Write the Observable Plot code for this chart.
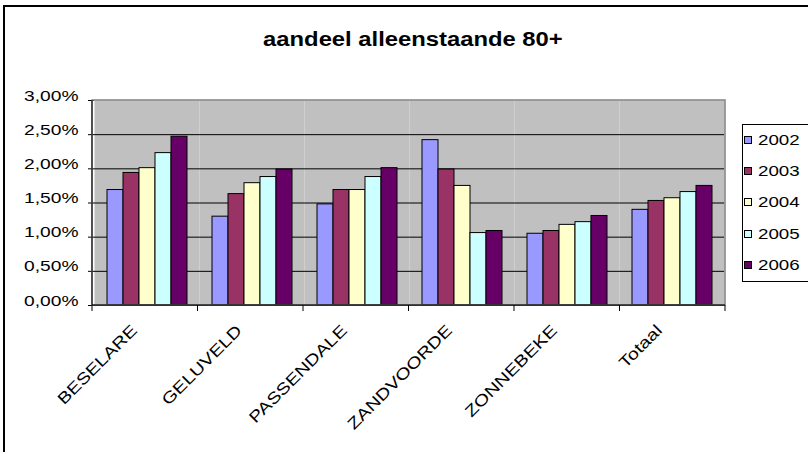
<!DOCTYPE html>
<html><head><meta charset="utf-8">
<script src="https://cdn.jsdelivr.net/npm/d3@7"></script>
<script src="https://cdn.jsdelivr.net/npm/@observablehq/plot@0.6"></script>
<style>
html,body{margin:0;padding:0;background:#fff;width:808px;height:452px;overflow:hidden;}
#wrap{position:relative;width:808px;height:452px;font-family:Arial,"Liberation Sans",sans-serif;color:#000;}
#border{position:absolute;left:3px;top:5px;width:900px;height:600px;border:2px solid #000;box-sizing:border-box;}
#chart{position:absolute;left:0;top:0;}
#title{position:absolute;left:0;width:825px;top:29px;text-align:center;font-weight:bold;font-size:20px;line-height:20px;white-space:nowrap;}
#title span{display:inline-block;transform:scaleX(1.19);}
#legend{position:absolute;left:742px;top:124px;width:120px;height:158px;border:1px solid #000;box-sizing:border-box;background:#fff;}
.item{position:absolute;left:1px;height:16px;font-size:15px;line-height:16px;display:flex;align-items:center;white-space:nowrap;}
.sw{width:6px;height:6px;border:1px solid #000;margin-right:6px;flex:none;}
.item span{display:inline-block;transform:scaleX(1.25);transform-origin:left center;}
</style></head>
<body><div id="wrap"><div id="border"></div><div id="chart"></div><div id="title"><span>aandeel alleenstaande 80+</span></div><div id="legend"></div></div>
<script>
const categories = ["BESELARE","GELUVELD","PASSENDALE","ZANDVOORDE","ZONNEBEKE","Totaal"];
const years = ["2002","2003","2004","2005","2006"];
const v2002 = [1.69, 1.30, 1.48, 2.42, 1.05, 1.40];
const v2003 = [1.94, 1.63, 1.69, 1.99, 1.09, 1.53];
const v2004 = [2.01, 1.79, 1.69, 1.75, 1.18, 1.57];
const v2005 = [2.23, 1.88, 1.88, 1.06, 1.22, 1.66];
const v2006 = [2.47, 1.99, 2.01, 1.09, 1.31, 1.75];
const yearColors = ["#9999FF","#993366","#FFFFCC","#CCFFFF","#660066"];
const yTicks = [0, 0.5, 1, 1.5, 2, 2.5, 3];
const yTickLabels = ["0,00%","0,50%","1,00%","1,50%","2,00%","2,50%","3,00%"];
const titleText = "aandeel alleenstaande 80+";

(function () {
const series = [v2002, v2003, v2004, v2005, v2006];
const data = [];
categories.forEach((c, i) => years.forEach((y, j) => data.push({cat: c, year: y, value: series[j][i]})));

const W = 808, H = 452, mL = 92, mR = 83, mT = 100, mB = 147;
const FS = 15, STRETCH = 1.28, XFS = 16, XSTRETCH = 1.24;

const chart = Plot.plot({
  width: W, height: H,
  marginLeft: mL, marginRight: mR, marginTop: mT, marginBottom: mB,
  style: {background: "transparent", fontFamily: "Arial, 'Liberation Sans', sans-serif", fontSize: FS + "px", color: "#000", overflow: "visible"},
  fx: {domain: categories, padding: 0, axis: null, label: null},
  x: {domain: years, paddingInner: 0, paddingOuter: 0.75, axis: null, label: null},
  y: {domain: [0, 3], ticks: yTicks, tickFormat: d => yTickLabels[yTicks.indexOf(d)], tickSize: 6, tickPadding: 10, label: null},
  color: {domain: years, range: yearColors},
  marks: [
    Plot.frame({fill: "#C0C0C0", stroke: "none"}),
    Plot.ruleY(yTicks.slice(1, -1), {stroke: "#000", strokeWidth: 1}),
    Plot.barY(data, {fx: "cat", x: "year", y: "value", fill: "year", stroke: "#000", strokeWidth: 1}),
    Plot.ruleY([0], {stroke: "#000", strokeWidth: 1}),
    Plot.text(categories, {fx: d => d, text: d => d, frameAnchor: "bottom", rotate: -45, textAnchor: "end", lineAnchor: "top", dx: -9, dy: 26, fontSize: XFS, fill: "#000", className: "xlab"})
  ]
});
document.getElementById("chart").appendChild(chart);

const svg = d3.select(chart);
const ys = chart.scale("y");
let fxRange = [mL, W - mR];
try { const f = chart.scale("fx"); if (f && f.range) fxRange = f.range; } catch (e) {}
const yTop = Math.min(...ys.range), yBottom = Math.max(...ys.range);
const xLeft = Math.min(...fxRange), xRight = Math.max(...fxRange);
const g = svg.append("g");
g.append("rect").attr("x", xLeft).attr("y", yTop).attr("width", xRight - xLeft).attr("height", yBottom - yTop)
  .attr("fill", "none").attr("stroke", "#808080").attr("stroke-width", 1.5);
g.append("line").attr("x1", xLeft).attr("x2", xLeft).attr("y1", yTop).attr("y2", yBottom).attr("stroke", "#000");
g.append("line").attr("x1", xLeft).attr("x2", xRight).attr("y1", yBottom).attr("y2", yBottom).attr("stroke", "#000");
const step = (xRight - xLeft) / categories.length;
for (let i = 0; i <= categories.length; i++) {
  const x = xLeft + i * step;
  g.append("line").attr("x1", x).attr("x2", x).attr("y1", yBottom).attr("y2", yBottom + 6).attr("stroke", "#000");
}

svg.selectAll("text").each(function () {
  const t = d3.select(this);
  const isX = this.closest(".xlab") !== null;
  const s = isX ? XSTRETCH : STRETCH;
  const x = +t.attr("x") || 0, y = +t.attr("y") || 0;
  const tr = t.attr("transform") || "";
  t.attr("x", null).attr("y", null).attr("transform", `${tr} translate(${x},${y}) scale(${s},1)`);
});

const leg = document.getElementById("legend");
years.forEach((y, i) => {
  const it = document.createElement("div");
  it.className = "item";
  it.style.top = (7 + i * 31.2) + "px";
  const sw = document.createElement("div");
  sw.className = "sw";
  sw.style.background = yearColors[i];
  const sp = document.createElement("span");
  sp.textContent = y;
  it.appendChild(sw); it.appendChild(sp);
  leg.appendChild(it);
});
document.querySelector("#title span").textContent = titleText;
})();
</script>
</body></html>
